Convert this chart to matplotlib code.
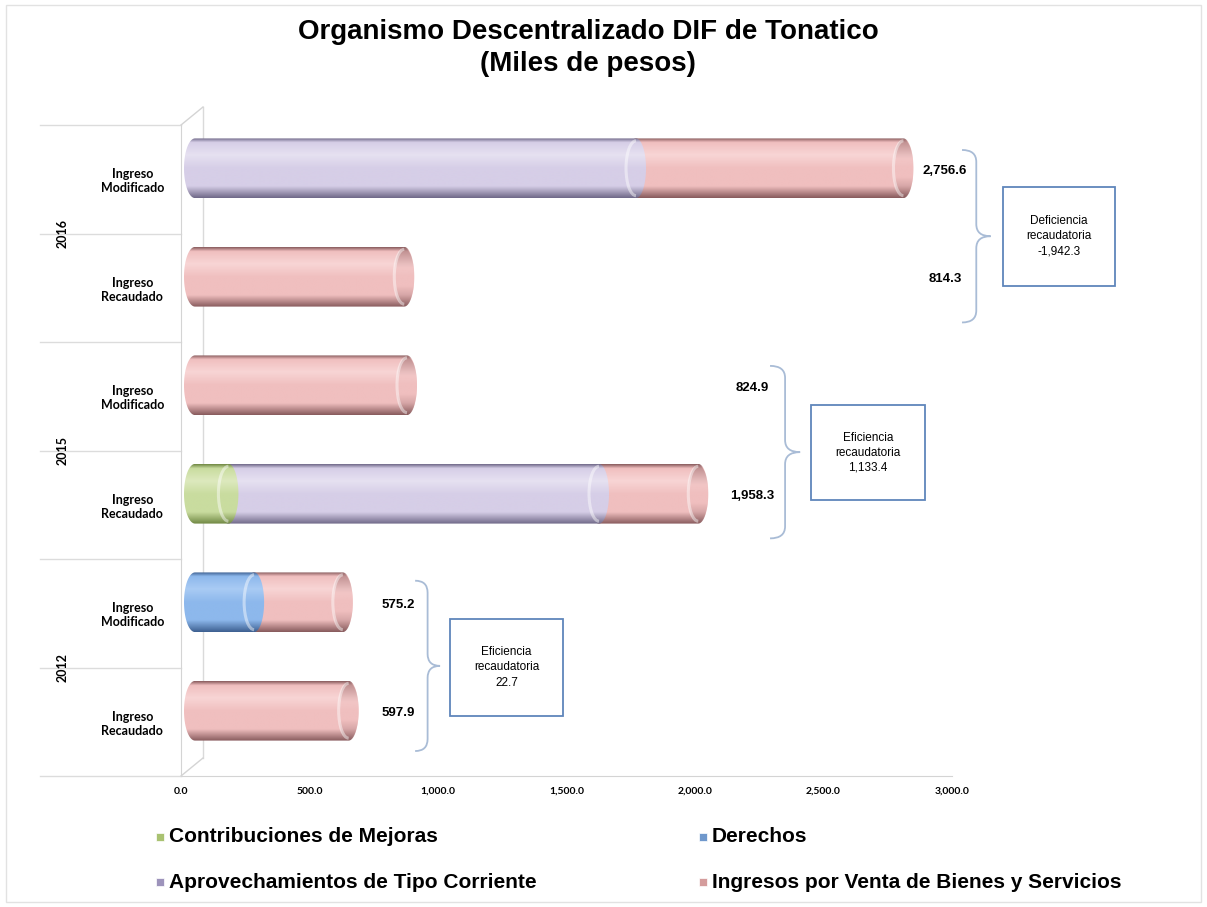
import numpy as np
import matplotlib
matplotlib.use('Agg')
import matplotlib.pyplot as plt
from matplotlib.colors import LinearSegmentedColormap
from matplotlib.patches import Ellipse, Rectangle, PathPatch, Arc
from matplotlib.path import Path
import matplotlib.transforms as mtransforms

# data (miles de pesos), rows top to bottom
years = ['2016', '2015', '2012']
rows = ['Ingreso\nModificado', 'Ingreso\nRecaudado',
        'Ingreso\nModificado', 'Ingreso\nRecaudado',
        'Ingreso\nModificado', 'Ingreso\nRecaudado']
series = ['Contribuciones de Mejoras', 'Derechos',
          'Aprovechamientos de Tipo Corriente', 'Ingresos por Venta de Bienes y Servicios']
contribuciones = [0, 0, 0, 130.0, 0, 0]
derechos = [0, 0, 0, 0, 230.0, 0]
aprovechamientos = [1716.0, 0, 0, 1442.0, 0, 0]
venta = [1040.6, 814.3, 824.9, 386.3, 345.2, 597.9]
totals = [2756.6, 814.3, 824.9, 1958.3, 575.2, 597.9]
xticks = [0, 500, 1000, 1500, 2000, 2500, 3000]

# (base, light, dark) for the cylinder shading
shades = [('#c9dc9f', '#dde9be', '#6f8742'),
          ('#8db8ec', '#a9cbf4', '#3d5f90'),
          ('#d6cee7', '#e6e1f1', '#6f6888'),
          ('#f0bfbf', '#f8d5d5', '#875a5c')]
legend_cols = ['#a9c271', '#6f98cc', '#9d93bb', '#d49c9c']

fig = plt.figure(figsize=(12.07, 9.07), dpi=100)
fig.patches.append(Rectangle((0.005, 0.005), 0.99, 0.99, transform=fig.transFigure,
                             fill=False, edgecolor='#e2e2e2', lw=1))
ax = fig.add_axes([181 / 1207, 1 - 776 / 907, 771 / 1207, 651 / 907])
ax.set_xlim(0, 3000)
ax.set_ylim(5.5, -0.5)
for s in ['top', 'right']:
    ax.spines[s].set_visible(False)
ax.spines['left'].set_color('#d4d4d4')
ax.spines['bottom'].set_color('#d4d4d4')

ax.set_xticks(xticks)
ax.set_xticklabels([f'{v:,.1f}' for v in xticks], fontsize=7.5, fontweight='bold', family='Lato')
ax.set_yticks(range(len(rows)))
ax.set_yticklabels(rows, fontsize=9, fontweight='bold', family='Lato', ha='center')
ax.tick_params(axis='y', length=0, pad=35)
ax.tick_params(axis='x', length=0, pad=8)

# 3D wall hints
ident = mtransforms.IdentityTransform()
wall = mtransforms.ScaledTranslation(0.22, 0.18, fig.dpi_scale_trans)
ax.plot([0, 0], [5.5, -0.5], color='#dadada', lw=1, transform=ax.transData + wall, clip_on=False)
for yb in [-0.5, 5.5]:
    px = ax.transData.transform([(0, yb)])[0]
    ax.plot([px[0], px[0] + 22], [px[1], px[1] + 18], color='#d4d4d4', lw=1,
            transform=ident, clip_on=False)

# row separators in the category area
blend = mtransforms.blended_transform_factory(ax.transAxes, ax.transData)
for b in np.arange(-0.5, 6.0, 1.0):
    ax.plot([-0.183, 0], [b, b], color='#dcdcdc', lw=1, transform=blend, clip_on=False)
for i, yr in enumerate(years):
    ax.text(-0.154, 2 * i + 0.5, yr, rotation=90, ha='center', va='center',
            fontsize=9, fontweight='bold', family='Lato', transform=blend)

# cylinder bars
off = ax.transData + mtransforms.ScaledTranslation(0.14, 0.11, fig.dpi_scale_trans)
h = 0.55
x_per_px = 3000 / 771
aL, aR = 11 * x_per_px, 10 * x_per_px


def cyl_cmap(base, light, dark):
    return LinearSegmentedColormap.from_list('c', [(0, dark), (0.07, base), (0.28, light),
                                                   (0.5, base), (0.8, base), (1.0, dark)])


def capsule(x0, x1, yc):
    t1 = np.linspace(np.pi / 2, -np.pi / 2, 40)
    t2 = np.linspace(-np.pi / 2, -3 * np.pi / 2, 40)
    xs = np.concatenate([x1 + aR * np.cos(t1), x0 + aL * np.cos(t2)])
    ys = np.concatenate([yc - h / 2 * np.sin(t1), yc - h / 2 * np.sin(t2)])
    return Path(np.column_stack([xs, ys]), closed=False)


grad = np.linspace(0, 1, 256).reshape(-1, 1)
values = [contribuciones, derechos, aprovechamientos, venta]
ypos = np.arange(len(rows))
left = np.zeros(len(rows))
containers = []
for k, vals in enumerate(values):
    bc = ax.barh(ypos, vals, left=left, height=h, color='none', lw=0)
    containers.append(bc)
    left = left + np.array(vals)

for r in range(len(rows)):
    segs = [(k, containers[k][r]) for k in range(4) if containers[k][r].get_width() > 0]
    for idx in reversed(range(len(segs))):
        k, p = segs[idx]
        x0 = p.get_x()
        x1 = x0 + p.get_width()
        yc = p.get_y() + h / 2
        base, light, dark = shades[k]
        path = capsule(x0, x1, yc)
        im = ax.imshow(grad, cmap=cyl_cmap(base, light, dark), aspect='auto', origin='upper',
                       extent=(x0 - aL, x1 + aR, yc + h / 2, yc - h / 2),
                       transform=off, zorder=3, interpolation='bilinear')
        im.set_clip_path(path, off)
        if idx == len(segs) - 1:
            # end face of the cylinder
            fe = Ellipse((x1, yc), 2 * aR, h * 0.96, transform=off, facecolor='none',
                         edgecolor='none', zorder=4)
            ax.add_patch(fe)
            face = LinearSegmentedColormap.from_list('f', [(0, dark), (0.35, base), (0.65, base), (1, dark)])
            im2 = ax.imshow(grad, cmap=face, aspect='auto', origin='upper',
                            extent=(x1 - aR, x1 + aR, yc + h / 2, yc - h / 2),
                            transform=off, zorder=4, alpha=0.55, interpolation='bilinear')
            im2.set_clip_path(fe)
        rim = Arc((x1, yc), 2 * aR, h * 0.92, theta1=90, theta2=270, transform=off,
                  edgecolor='white', lw=2.2, alpha=0.45, zorder=5)
        ax.add_patch(rim)

ax.set_xlim(0, 3000)
ax.set_ylim(5.5, -0.5)

# value labels
label_x = [2973, 2973, 2222, 2222, 844, 844]
for r, t in enumerate(totals):
    ax.text(label_x[r], r - 0.08, f'{t:,.1f}', ha='center', va='center', fontsize=9.5,
            fontweight='bold', family='Liberation Sans', clip_on=False)


def brace(x0, xt, ytop, ybot, color='#a9bcd6'):
    inv = ax.transData.inverted()
    (X0, Yt), (Xt, Yb) = ax.transData.transform([(x0, ytop), (xt, ybot)])
    Xm = (X0 + Xt) / 2
    Ym = (Yt + Yb) / 2
    r = 12
    verts = [(X0, Yt), (Xm, Yt), (Xm, Yt - r),
             (Xm, Ym + r), (Xm, Ym), (Xt, Ym),
             (Xm, Ym), (Xm, Ym - r),
             (Xm, Yb + r), (Xm, Yb), (X0, Yb)]
    codes = [Path.MOVETO, Path.CURVE3, Path.CURVE3,
             Path.LINETO, Path.CURVE3, Path.CURVE3,
             Path.CURVE3, Path.CURVE3,
             Path.LINETO, Path.CURVE3, Path.CURVE3]
    pth = Path(inv.transform(verts), codes)
    ax.add_patch(PathPatch(pth, fill=False, edgecolor=color, lw=1.3, clip_on=False))


def box(x0, x1, y0, y1, text):
    ax.add_patch(Rectangle((x0, y0), x1 - x0, y1 - y0, fill=False, edgecolor='#5f86bb',
                           lw=1.3, clip_on=False))
    ax.text((x0 + x1) / 2, (y0 + y1) / 2, text, ha='center', va='center', fontsize=8.5,
            family='Liberation Sans', linespacing=1.35, clip_on=False)


brace(3039, 3150, -0.27, 1.32)
brace(2292, 2409, 1.72, 3.31)
brace(911, 1008, 3.70, 5.27)
d16 = totals[1] - totals[0]
d15 = totals[3] - totals[2]
d12 = totals[5] - totals[4]
box(3198, 3634, 0.07, 0.98, f'Deficiencia\nrecaudatoria\n{d16:,.1f}')
box(2451, 2895, 2.08, 2.96, f'Eficiencia\nrecaudatoria\n{d15:,.1f}')
box(1047, 1486, 4.05, 4.95, f'Eficiencia\nrecaudatoria\n{d12:,.1f}')

# title
fig.text(588 / 1207, 1 - 48 / 907, 'Organismo Descentralizado DIF de Tonatico\n(Miles de pesos)',
         ha='center', va='center', fontsize=20, fontweight='bold', family='Liberation Sans',
         linespacing=1.3)

# legend
leg_pos = [(160, 837), (703, 837), (160, 882), (703, 882)]
for (lx, ly), name, c in zip(leg_pos, series, legend_cols):
    fig.patches.append(Rectangle(((lx - 4) / 1207, 1 - (ly + 4) / 907), 8 / 1207, 8 / 907,
                                 transform=fig.transFigure, facecolor=c, edgecolor='white', lw=0.5))
    fig.text((lx + 9) / 1207, 1 - ly / 907, name, ha='left', va='center', fontsize=15,
             fontweight='bold', family='Liberation Sans')

fig.savefig('out.png', dpi=100)
